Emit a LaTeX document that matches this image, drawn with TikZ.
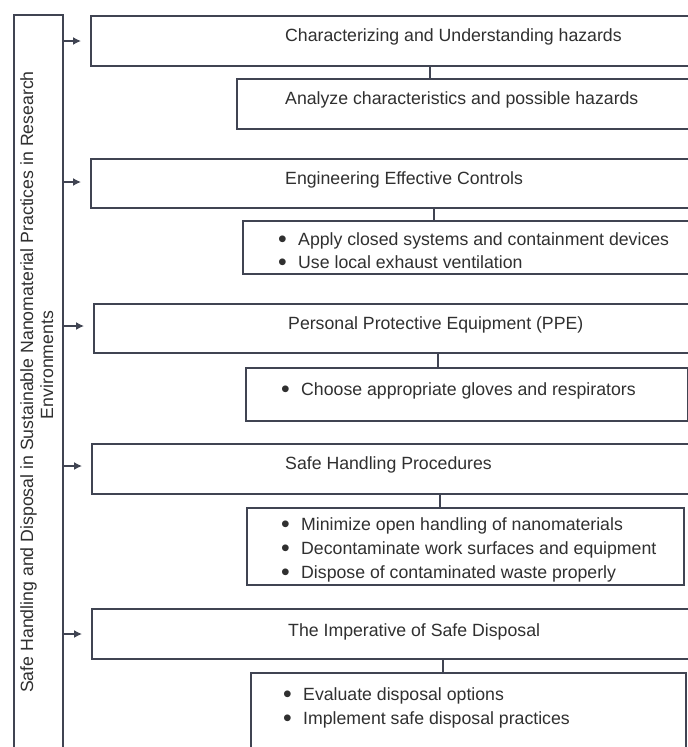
\documentclass[tikz,border=0pt]{standalone}
\usepackage{fontspec}
\setmainfont{Liberation Sans}
\usetikzlibrary{arrows.meta}
\definecolor{ln}{RGB}{64,68,82}
\definecolor{tx}{RGB}{48,48,48}
\newcommand\bul[1]{\makebox[20pt][l]{\raisebox{-2.2pt}[0pt][0pt]{\scalebox{1.4}{•}}}#1}
\begin{document}
\begin{tikzpicture}[x=1pt,y=-1pt,
  box/.style={draw=ln,line width=1.8pt,rectangle,inner sep=0pt,anchor=north west},
  txt/.style={inner sep=0pt,text=tx,font=\fontsize{17.7}{24}\selectfont,anchor=base west},
  conn/.style={draw=ln,line width=1.8pt},
  arr/.style={draw=ln,line width=1.4pt,-{Latex[length=8pt,width=8pt]},shorten >=9pt}]
\useasboundingbox (0,0) rectangle (688,747);
\clip (0,0) rectangle (688,747);
\fill[white] (0,0) rectangle (688,747);
% left box
\node[box,minimum width=49pt,minimum height=760pt] (L) at (13,14) {};
\node[inner sep=0pt,text=tx,font=\fontsize{17.7}{20}\selectfont,rotate=90,anchor=base] (Lt1) at (33,382) {Safe Handling and Disposal in Sustainable Nanomaterial Practices in Research};
\node[inner sep=0pt,text=tx,font=\fontsize{17.7}{20}\selectfont,rotate=90,anchor=base] (Lt2) at (53,365) {Environments};
% boxes
\node[box,minimum width=620pt,minimum height=50pt] (b1) at (90,15) {};
\node[box,minimum width=480pt,minimum height=50pt] (s1) at (236,78) {};
\node[box,minimum width=620pt,minimum height=49pt] (b2) at (90,158) {};
\node[box,minimum width=470pt,minimum height=53pt] (s2) at (242,220) {};
\node[box,minimum width=620pt,minimum height=49pt] (b3) at (93,303) {};
\node[box,minimum width=442pt,minimum height=53pt] (s3) at (245,367) {};
\node[box,minimum width=620pt,minimum height=50pt] (b4) at (91,443) {};
\node[box,minimum width=437pt,minimum height=77pt] (s4) at (246,507) {};
\node[box,minimum width=620pt,minimum height=50pt] (b5) at (91,608) {};
\node[box,minimum width=435pt,minimum height=100pt] (s5) at (250,672) {};
% texts
\node[txt] (t1) at (285,41) {Characterizing and Understanding hazards};
\node[txt] (u1) at (285,104) {Analyze characteristics and possible hazards};
\node[txt] (t2) at (285,184) {Engineering Effective Controls};
\node[txt] (u2a) at (278,245) {\bul{Apply closed systems and containment devices}};
\node[txt] (u2b) at (278,268) {\bul{Use local exhaust ventilation}};
\node[txt] (t3) at (288,329) {Personal Protective Equipment (PPE)};
\node[txt] (u3a) at (281,395) {\bul{Choose appropriate gloves and respirators}};
\node[txt] (t4) at (285,469) {Safe Handling Procedures};
\node[txt] (u4a) at (281,530) {\bul{Minimize open handling of nanomaterials}};
\node[txt] (u4b) at (281,554) {\bul{Decontaminate work surfaces and equipment}};
\node[txt] (u4c) at (281,578) {\bul{Dispose of contaminated waste properly}};
\node[txt] (t5) at (288,636) {The Imperative of Safe Disposal};
\node[txt] (u5a) at (283,700) {\bul{Evaluate disposal options}};
\node[txt] (u5b) at (283,724) {\bul{Implement safe disposal practices}};
% connector positions
\coordinate (k1) at (430,0);
\coordinate (k2) at (434,0);
\coordinate (k3) at (438,0);
\coordinate (k4) at (440,0);
\coordinate (k5) at (443,0);
\draw[conn] (b1.south -| k1) -- (s1.north -| k1);
\draw[conn] (b2.south -| k2) -- (s2.north -| k2);
\draw[conn] (b3.south -| k3) -- (s3.north -| k3);
\draw[conn] (b4.south -| k4) -- (s4.north -| k4);
\draw[conn] (b5.south -| k5) -- (s5.north -| k5);
% arrows
\coordinate (a1) at (0,41);
\coordinate (a2) at (0,182);
\coordinate (a3) at (0,326);
\coordinate (a4) at (0,466);
\coordinate (a5) at (0,634);
\draw[arr] (L.east |- a1) -- (b1.west |- a1);
\draw[arr] (L.east |- a2) -- (b2.west |- a2);
\draw[arr] (L.east |- a3) -- (b3.west |- a3);
\draw[arr] (L.east |- a4) -- (b4.west |- a4);
\draw[arr] (L.east |- a5) -- (b5.west |- a5);
\end{tikzpicture}
\end{document}
